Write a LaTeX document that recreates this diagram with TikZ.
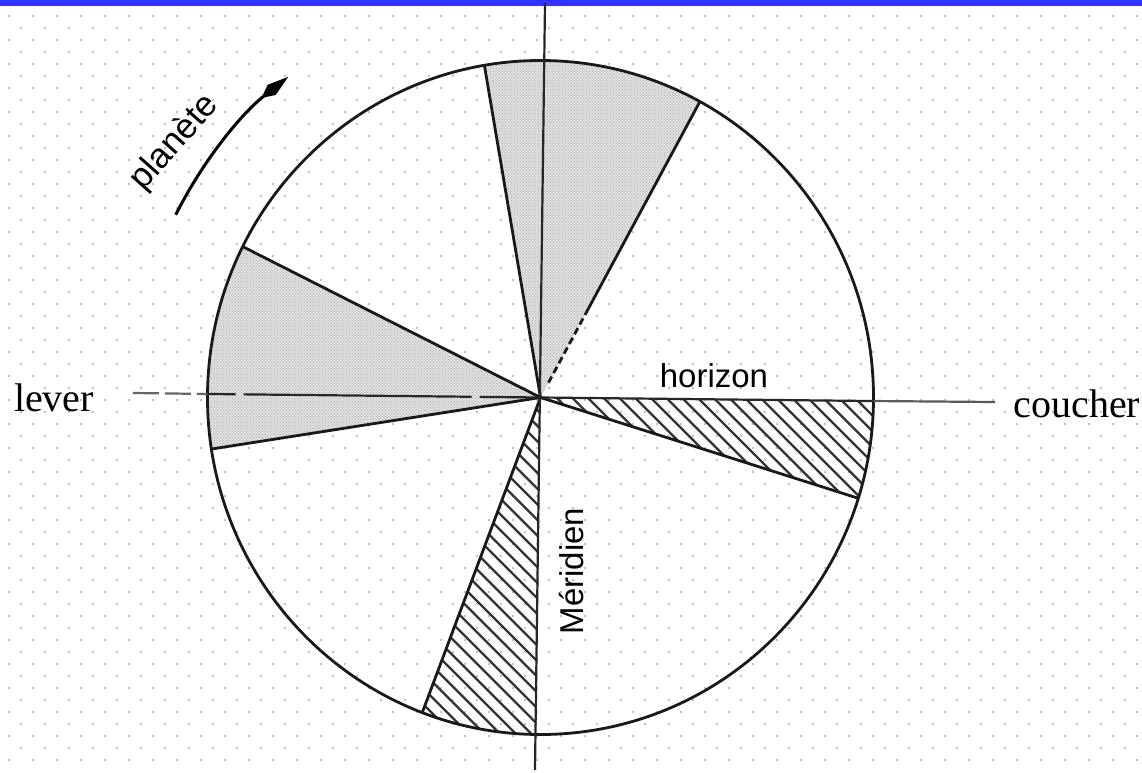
\documentclass[tikz,border=0pt]{standalone}
\usepackage{fontspec}
\newfontfamily\serifA{Liberation Serif}
\newfontfamily\sansA{Liberation Sans}
\usetikzlibrary{arrows.meta,calc,patterns}
\definecolor{barblue}{RGB}{51,51,255}
\definecolor{dotgray}{RGB}{192,192,192}
\definecolor{stipple}{RGB}{222,222,222}
\begin{document}
\begin{tikzpicture}[x=1pt,y=1pt,
  outline/.style={line width=2.8pt,black!90},
  ray/.style={line width=2.8pt,black!90},
  axisline/.style={line width=2.2pt,black!85},
  hatch/.style={line width=2.3pt,black!80},
  stippled/.style={fill=stipple,postaction={pattern=crosshatch dots,pattern color=black!30}},
  serifl/.style={inner sep=0pt,font=\serifA\fontsize{40}{40}\selectfont},
  sansl/.style={inner sep=0pt,font=\sansA\fontsize{33}{33}\selectfont}]
\useasboundingbox (-540.5,-374.5) rectangle (601.5,397.5);
\fill[white] (-540.5,-374.5) rectangle (601.5,397.5);
% dotted background grid
\foreach \j in {0,...,62}{
  \pgfmathsetmacro{\yy}{397.5-16-12*\j}
  \pgfmathsetmacro{\xx}{9+12*mod(\j,2)-540.5-1.25}
  \draw[dotgray,line width=2.5pt,dash pattern=on 2.5pt off 21.5pt] (\xx,\yy) -- (602,\yy);
}
% top bar
\fill[barblue] (-540.5,391.5) rectangle (601.5,397.5);
% key points
\coordinate (O) at (0,0);
\coordinate (A) at (99.7:333 and 337);
\coordinate (B) at (61.4:333 and 337);
\coordinate (C) at (153.4:333 and 337);
\coordinate (D) at (188.8:333 and 337);
\coordinate (E) at (-17.4:333 and 337);
\coordinate (F) at (249.2:333 and 337);
\coordinate (Hr) at (-0.6:333 and 337);
\coordinate (Vtop) at (4.5,394.5);
\coordinate (Vbot) at (-5.5,-372.5);
\coordinate (Hleft) at (-407.5,4.5);
\coordinate (Hright) at (454.5,-4.5);
\coordinate (Hc) at (179.4:333 and 337);
\coordinate (Bm) at ($(O)!0.3!(B)$);
\coordinate (Bn) at ($(O)!0.05!(B)$);
% stippled sectors
\path[stippled] (O) -- (A) arc[start angle=99.7,end angle=61.4,x radius=333,y radius=337] -- cycle;
\path[stippled] (O) -- (C) arc[start angle=153.4,end angle=188.8,x radius=333,y radius=337] -- cycle;
% hatched sectors
\begin{scope}
\clip (O) -- (Hr) arc[start angle=-0.6,end angle=-17.4,x radius=333,y radius=337] -- cycle;
\foreach \c in {-40,...,40} \draw[hatch] (\c*15.7-400,400) -- (\c*15.7+400,-400);
\end{scope}
\begin{scope}
\clip (O) -- (F) arc[start angle=249.2,end angle=269.3,x radius=333,y radius=337] -- cycle;
\foreach \c in {-40,...,40} \draw[hatch] (\c*15.7-400,400) -- (\c*15.7+400,-400);
\end{scope}
% circle
\draw[outline] (O) ellipse[x radius=333,y radius=337];
% radial lines
\draw[ray] (O) -- (A);
\draw[ray] (B) -- (Bm);
\draw[ray,dash pattern=on 7pt off 4pt] (Bm) -- (Bn);
\draw[ray] (O) -- (C);
\draw[ray] (O) -- (D);
\draw[ray] (O) -- (E);
\draw[ray] (O) -- (F);
% axes
\draw[axisline] (Vtop) -- (Vbot);
\draw[axisline] (O) -- (Hr);
\draw[axisline,black!65] (Hr) -- (Hright);
\draw[axisline,black!60,dash pattern=on 26pt off 6pt] (Hleft) -- (Hc);
\draw[axisline,dash pattern=on 28pt off 8pt on 200pt off 0pt] (Hc) -- (O);
% planet arrow
\draw[line width=3pt,-{Kite[length=34pt,width=13pt,inset=13pt]}] (153.4:408) arc[start angle=153.4,end angle=128.2,radius=408];
% labels
\node[serifl,anchor=base] (lever) at (-486.5,-13.5) {lever};
\node[serifl,anchor=base] (coucher) at (536.5,-19.5) {coucher};
\node[sansl,anchor=base] (horizon) at (173.5,10.5) {horizon};
\node[sansl,rotate=90,anchor=base] (meridien) at (42.5,-173.5) {Méridien};
\node[sansl,font=\sansA\fontsize{35}{35}\selectfont,rotate=48.5] (planete) at (-366,255) {planète};
\end{tikzpicture}
\end{document}
